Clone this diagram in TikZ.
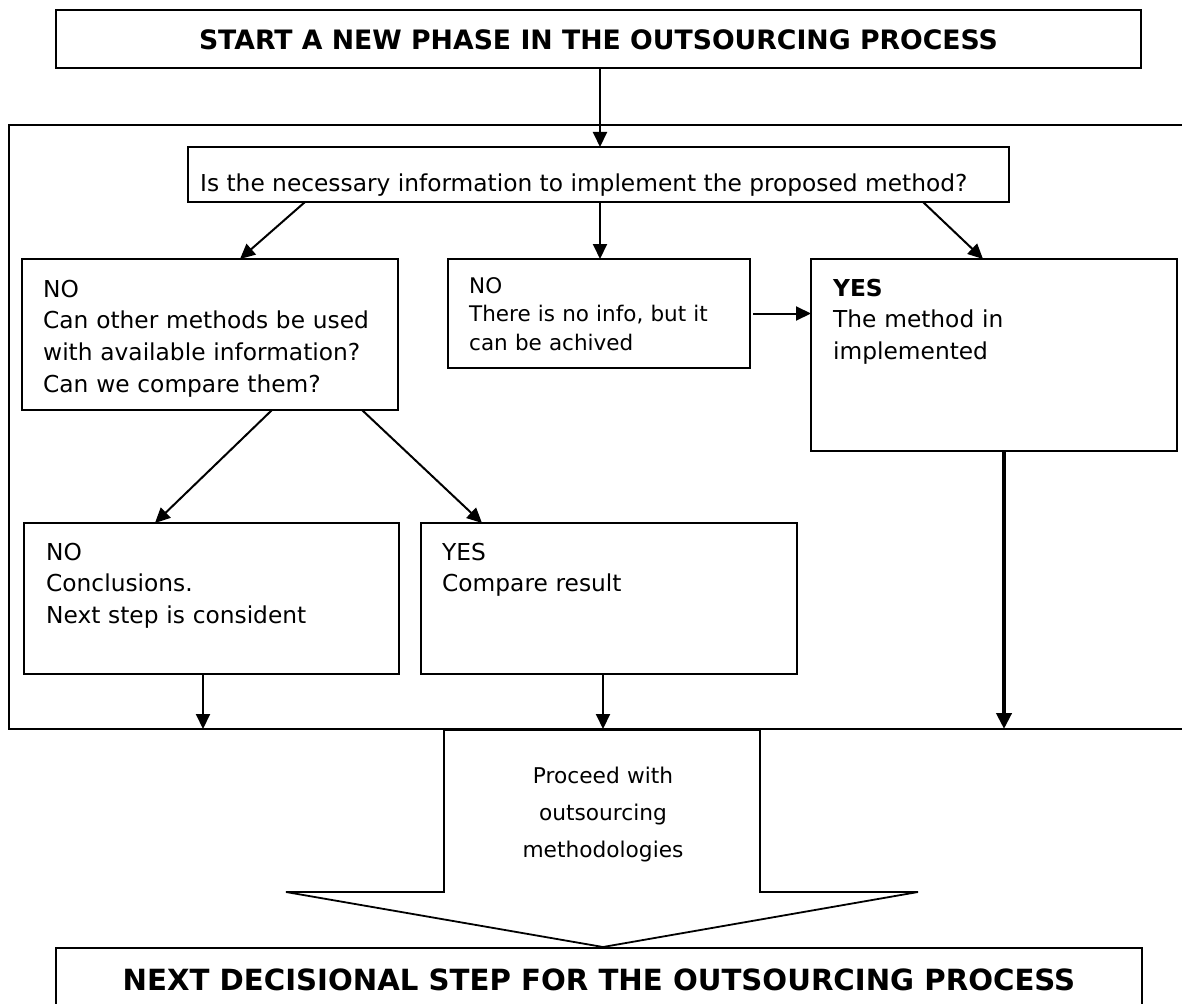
\documentclass[tikz,border=0pt]{standalone}
\usepackage{fontspec}
\setmainfont{DejaVu Sans}
\usetikzlibrary{arrows.meta,calc}
\newcommand\myBody{\fontsize{23.3}{31.7}\selectfont}
\newcommand\myMid{\fontsize{21.5}{28.7}\selectfont}
\newcommand\myArr{\fontsize{21.7}{37}\selectfont}
\newcommand\myTtlA{\fontsize{26.7}{32}\selectfont\bfseries}
\newcommand\myTtlB{\fontsize{29.2}{35}\selectfont\bfseries}
\tikzset{
  box/.style={draw, line width=2pt, inner sep=0pt, outer sep=0pt, anchor=north west},
  txt/.style={inner sep=0pt, anchor=base west, align=left, text width=#1},
  txt/.default=360pt,
  arr/.style={line width=2pt, -{Triangle[length=15pt,width=14pt]}},
  thickarr/.style={line width=4.6pt, -{Triangle[length=16pt,width=15pt]}},
  frame/.style={line width=2pt},
}
\begin{document}
\begin{tikzpicture}[x=1pt,y=-1pt]
\useasboundingbox (0,0) rectangle (1182,1003);
\fill[white] (0,0) rectangle (1182,1003);
% container frame
\draw[frame] (1190,125) -- (9,125) -- (9,729) -- (1190,729);
\coordinate (cb1) at (203,729);
\coordinate (cb2) at (603,729);
\coordinate (cb3) at (1004,729);
% boxes
\node[box, minimum width=1085pt, minimum height=58pt] (T) at (56,10) {};
\node[box, minimum width=821pt, minimum height=55pt] (Q) at (188,147) {};
\node[box, minimum width=376pt, minimum height=151pt] (A) at (22,259) {};
\node[box, minimum width=302pt, minimum height=109pt] (B) at (448,259) {};
\node[box, minimum width=366pt, minimum height=192pt] (C) at (811,259) {};
\node[box, minimum width=375pt, minimum height=151pt] (D) at (24,523) {};
\node[box, minimum width=376pt, minimum height=151pt] (E) at (421,523) {};
\node[box, minimum width=1086pt, minimum height=80pt] (N) at (56,948) {};
% texts
\node[inner sep=0pt, anchor=base, font=\myTtlA] (Tt) at (598.5,50) {START A NEW PHASE IN THE OUTSOURCING PROCESS};
\node[inner sep=0pt, anchor=base west, font=\myBody] (Qt) at (200,191) {Is the necessary information to implement the proposed method?};
\node[txt=350pt, font=\myBody] (At) at (43,297) {NO\\Can other methods be used\\with available information?\\Can we compare them?};
\node[txt=280pt, font=\myMid] (Bt) at (469,293) {NO\\There is no info, but it\\can be achived};
\node[txt=340pt, font=\myBody] (Ct) at (833,296) {\textbf{YES}\\The method in\\implemented};
\node[txt=350pt, font=\myBody] (Dt) at (46,560) {NO\\Conclusions.\\Next step is consident};
\node[txt=350pt, font=\myBody] (Et) at (442,560) {YES\\Compare result};
\node[inner sep=0pt, anchor=base, font=\myTtlB] (Nt) at (599,990) {NEXT DECISIONAL STEP FOR THE OUTSOURCING PROCESS};
% connectors
\draw[arr] ([xshift=544pt]T.south west) -- ([xshift=412pt]Q.north west);
\draw[arr] ([xshift=117pt]Q.south west) -- ([xshift=218pt]A.north west);
\draw[arr] ([xshift=412pt]Q.south west) -- ([xshift=152pt]B.north west);
\draw[arr] ([xshift=735pt]Q.south west) -- ([xshift=172pt]C.north west);
\draw[arr] ([xshift=3pt]B.east) -- (B.east -| C.west);
\draw[arr] ([xshift=250pt]A.south west) -- ([xshift=131pt]D.north west);
\draw[arr] ([xshift=340pt]A.south west) -- ([xshift=61pt]E.north west);
\draw[arr] ([xshift=179pt]D.south west) -- (cb1);
\draw[arr] ([xshift=182pt]E.south west) -- (cb2);
\draw[thickarr] ([xshift=193pt]C.south west) -- (cb3);
% big block arrow
\draw[line width=1.8pt, line join=miter] (444,729) -- (760,729) -- (760,892) -- (918,892) -- (603,947) -- (286,892) -- (444,892) -- cycle;
\draw[line width=3pt] (444,729) -- (760,729);
\node[inner sep=0pt, anchor=base, align=center, text width=260pt, font=\myArr] (Pt) at (603,783) {Proceed with\\outsourcing\\methodologies};
\end{tikzpicture}
\end{document}
